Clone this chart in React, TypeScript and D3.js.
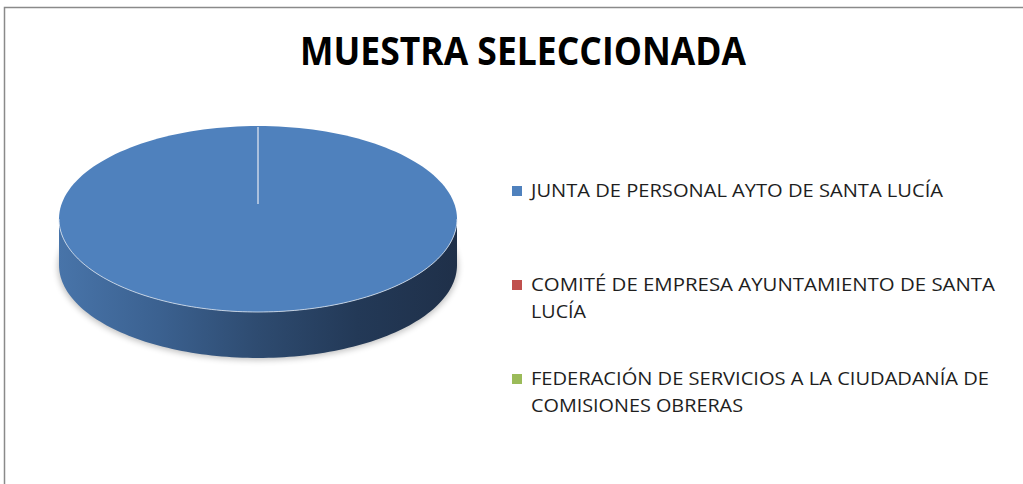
import React from "react";
import * as d3 from "d3";

const categories = [
  "JUNTA DE PERSONAL AYTO DE SANTA LUCÍA",
  "COMITÉ DE EMPRESA AYUNTAMIENTO DE SANTA LUCÍA",
  "FEDERACIÓN DE SERVICIOS A LA CIUDADANÍA DE COMISIONES OBRERAS",
];
const values = [100, 0, 0];
const colors = ["#4f81bd", "#c0504d", "#9bbb59"];
const legendLines = [
  ["JUNTA DE PERSONAL AYTO DE SANTA LUCÍA"],
  ["COMITÉ DE EMPRESA AYUNTAMIENTO DE SANTA", "LUCÍA"],
  ["FEDERACIÓN DE SERVICIOS A LA CIUDADANÍA DE", "COMISIONES OBRERAS"],
];
const legendLineWidths = [[412], [464, 55], [458, 212]];
const title = "MUESTRA SELECCIONADA";

const W = 1023;
const H = 484;
const cx = 258;
const cy = 219;
const rx = 199;
const ry = 93;
const depth = 46;

function pt(a: number, dy = 0): [number, number] {
  return [cx + rx * Math.sin(a), cy - ry * Math.cos(a) + dy];
}

function topPath(a0: number, a1: number) {
  const n = Math.max(2, Math.ceil(((a1 - a0) / (2 * Math.PI)) * 180));
  const pts: [number, number][] = [];
  for (let i = 0; i <= n; i++) pts.push(pt(a0 + ((a1 - a0) * i) / n));
  const full = a1 - a0 >= 2 * Math.PI - 1e-6;
  const line = d3.line();
  if (full) return line(pts) + "Z";
  return line([[cx, cy], ...pts, [cx, cy]]) + "Z";
}

function sidePath(a0: number, a1: number) {
  const s = Math.max(a0, Math.PI / 2);
  const e = Math.min(a1, (3 * Math.PI) / 2);
  if (e <= s) return null;
  const n = 120;
  const upper: [number, number][] = [];
  const lower: [number, number][] = [];
  for (let i = 0; i <= n; i++) {
    const a = s + ((e - s) * i) / n;
    upper.push(pt(a));
    lower.push(pt(a, depth));
  }
  return d3.line()([...upper, ...lower.reverse()]) + "Z";
}

function rimPath(a0: number, a1: number) {
  const s = Math.max(a0, Math.PI / 2);
  const e = Math.min(a1, (3 * Math.PI) / 2);
  if (e <= s) return null;
  const n = 120;
  const p: [number, number][] = [];
  for (let i = 0; i <= n; i++) p.push(pt(s + ((e - s) * i) / n));
  return d3.line()(p);
}

export default function App() {
  const pie = d3.pie<number>().sort(null).startAngle(0).endAngle(2 * Math.PI);
  const arcs = pie(values);
  const legendY = [197, 291, 385];
  const lineH = 27;

  return (
    <svg
      width={W}
      height={H}
      style={{ position: "absolute", left: 0, top: 0, background: "#fff" }}
      fontFamily="'Open Sans', 'Liberation Sans', sans-serif"
    >
      <defs>
        <linearGradient id="sideGrad" x1={cx - rx} x2={cx + rx} y1="0" y2="0" gradientUnits="userSpaceOnUse">
          <stop offset="0%" stopColor="#4874a9" />
          <stop offset="25%" stopColor="#3b6190" />
          <stop offset="50%" stopColor="#2e4b70" />
          <stop offset="75%" stopColor="#233957" />
          <stop offset="100%" stopColor="#1f3049" />
        </linearGradient>
        <filter id="shadow" x="-20%" y="-50%" width="140%" height="200%">
          <feGaussianBlur stdDeviation="3" />
        </filter>
      </defs>
      <rect x={4.5} y={7.5} width={W + 10} height={H + 10} fill="#fff" stroke="#8a8a8a" strokeWidth={1.5} />
      <text
        x={523}
        y={65}
        textAnchor="middle"
        fontSize={40}
        fontWeight="bold"
        fill="#000"
        textLength={446}
        lengthAdjust="spacingAndGlyphs"
      >
        {title}
      </text>

      <ellipse cx={cx} cy={cy + depth + 2} rx={rx + 1} ry={ry} fill="#000" opacity={0.25} filter="url(#shadow)" />

      {arcs.map((a, i) => {
        const sp = sidePath(a.startAngle, a.endAngle);
        return sp ? <path key={"s" + i} d={sp} fill={i === 0 ? "url(#sideGrad)" : colors[i]} /> : null;
      })}
      {arcs.map((a, i) =>
        a.endAngle - a.startAngle > 1e-9 ? (
          <path key={"t" + i} d={topPath(a.startAngle, a.endAngle)} fill={colors[i]} />
        ) : null
      )}
      {arcs.map((a, i) => {
        const rp = rimPath(a.startAngle, a.endAngle);
        return rp ? <path key={"r" + i} d={rp} fill="none" stroke="#d9e3f0" strokeOpacity={0.8} strokeWidth={1} /> : null;
      })}
      {arcs
        .filter((a, i) => i > 0 && a.endAngle - a.startAngle < 1e-9)
        .slice(0, 1)
        .map((a, i) => {
          const [x1, y1] = pt(a.startAngle);
          return <line key={"z" + i} x1={x1} y1={y1 + 1} x2={x1} y2={cy - 15} stroke="#c9d6e8" strokeWidth={1.5} />;
        })}

      {categories.map((c, i) => (
        <g key={c}>
          <rect x={512} y={legendY[i] - 11} width={10} height={10} fill={colors[i]} />
          {legendLines[i].map((l, j) => (
            <text
              key={j}
              x={531}
              y={legendY[i] + j * lineH}
              fontSize={19}
              fill="#1e1e1e"
              textLength={legendLineWidths[i][j]}
              lengthAdjust="spacingAndGlyphs"
            >
              {l}
            </text>
          ))}
        </g>
      ))}
    </svg>
  );
}
